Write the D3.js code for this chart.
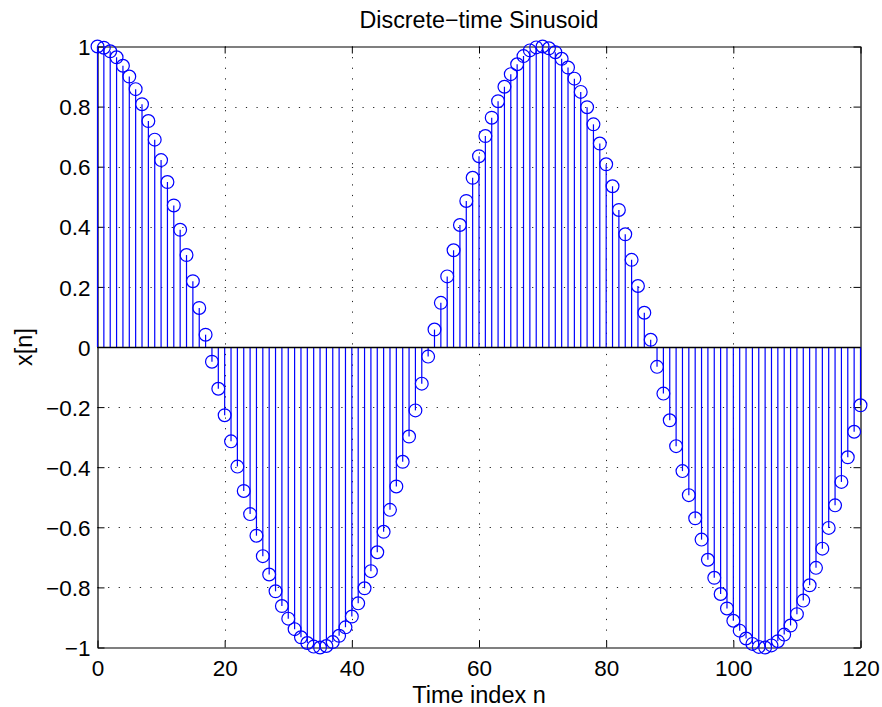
<!DOCTYPE html>
<html><head><meta charset="utf-8">
<script src="https://cdn.jsdelivr.net/npm/d3@7/dist/d3.min.js"></script>
<style>body{margin:0;background:#fff}svg{display:block}</style>
</head><body>
<script>
// x[n] values, n = 0..120
const values = [
 1.000, 0.996, 0.984, 0.964, 0.936, 0.900, 0.858, 0.808, 0.752, 0.690,
 0.622, 0.549, 0.471, 0.390, 0.306, 0.219, 0.130, 0.041,-0.049,-0.139,
-0.227,-0.314,-0.398,-0.479,-0.556,-0.628,-0.696,-0.757,-0.813,-0.862,
-0.904,-0.939,-0.966,-0.985,-0.997,-1.000,-0.995,-0.982,-0.961,-0.933,
-0.897,-0.853,-0.803,-0.746,-0.683,-0.615,-0.542,-0.464,-0.382,-0.298,
-0.211,-0.122,-0.032, 0.058, 0.147, 0.235, 0.322, 0.406, 0.486, 0.563,
 0.635, 0.702, 0.763, 0.818, 0.866, 0.908, 0.941, 0.968, 0.987, 0.997,
 1.000, 0.994, 0.981, 0.959, 0.930, 0.893, 0.849, 0.798, 0.741, 0.677,
 0.608, 0.535, 0.456, 0.375, 0.290, 0.203, 0.114, 0.024,-0.066,-0.155,
-0.244,-0.330,-0.413,-0.493,-0.570,-0.641,-0.708,-0.768,-0.822,-0.870,
-0.911,-0.944,-0.970,-0.988,-0.998,-1.000,-0.993,-0.979,-0.957,-0.927,
-0.889,-0.844,-0.793,-0.735,-0.671,-0.602,-0.527,-0.449,-0.367,-0.282,
-0.194
];
const xTicks = [0, 20, 40, 60, 80, 100, 120];
const xTickLabels = ["0", "20", "40", "60", "80", "100", "120"];
const yTicks = [-1, -0.8, -0.6, -0.4, -0.2, 0, 0.2, 0.4, 0.6, 0.8, 1];
const yTickLabels = ["\u22121", "\u22120.8", "\u22120.6", "\u22120.4", "\u22120.2", "0", "0.2", "0.4", "0.6", "0.8", "1"];
const titleText = "Discrete\u2212time Sinusoid";
const xLabelText = "Time index n";
const yLabelText = "x[n]";

const W = 882, H = 707;
const L = 97.5, R = 860.5, T = 46.5, B = 647.5;
const FONT = "'Liberation Sans', Arial, Helvetica, sans-serif";
const blue = "#0000ff";

const svg = d3.select("body").append("svg").attr("width", W).attr("height", H)
  .style("font-family", FONT);

const x = d3.scaleLinear().domain([0, 120]).range([L, R]);
const y = d3.scaleLinear().domain([-1, 1]).range([B, T]);

const data = values.map((v, i) => ({n: i, v: v}));

// grid
const grid = svg.append("g").attr("stroke", "#222").attr("stroke-width", 1)
  .attr("stroke-dasharray", "1.2,9.4").attr("fill", "none");
grid.selectAll(".gx").data(xTicks.filter(t => t > 0 && t < 120)).join("line")
  .attr("x1", d => Math.round(x(d)) + 0.5).attr("x2", d => Math.round(x(d)) + 0.5)
  .attr("y1", T).attr("y2", B);
grid.selectAll(".gy").data(yTicks.filter(t => t > -1 && t < 1)).join("line")
  .attr("y1", d => Math.round(y(d)) + 0.5).attr("y2", d => Math.round(y(d)) + 0.5)
  .attr("x1", L).attr("x2", R);

// axes with inward ticks
const tickLen = 7;
const fs = 22.5;
const axB = svg.append("g").attr("transform", `translate(0,${B})`)
  .call(d3.axisBottom(x).tickValues(xTicks).tickFormat((d, i) => xTickLabels[i])
    .tickSizeInner(-tickLen).tickSizeOuter(0).tickPadding(28.5));
const axT = svg.append("g").attr("transform", `translate(0,${T})`)
  .call(d3.axisTop(x).tickValues(xTicks).tickFormat("").tickSizeInner(-tickLen).tickSizeOuter(0));
const axL = svg.append("g").attr("transform", `translate(${L},0)`)
  .call(d3.axisLeft(y).tickValues(yTicks).tickFormat((d, i) => yTickLabels[i])
    .tickSizeInner(-tickLen).tickSizeOuter(0).tickPadding(7));
const axR = svg.append("g").attr("transform", `translate(${R},0)`)
  .call(d3.axisRight(y).tickValues(yTicks).tickFormat("").tickSizeInner(-tickLen).tickSizeOuter(0));
[axB, axT, axL, axR].forEach(a => {
  a.select(".domain").attr("stroke", "#000").attr("stroke-width", 1.2);
  a.selectAll(".tick line").attr("stroke", "#000").attr("stroke-width", 1);
  a.selectAll("text").attr("font-family", FONT).attr("font-size", fs).attr("fill", "#000");
});
axB.selectAll(".tick text").attr("dy", "0");
axL.selectAll(".tick text").attr("dy", "0.36em");

// stems
const stems = svg.append("g");
stems.selectAll("line").data(data).join("line")
  .attr("x1", d => x(d.n)).attr("x2", d => x(d.n))
  .attr("y1", y(0)).attr("y2", d => y(d.v))
  .attr("stroke", blue).attr("stroke-width", 1.2);

// baseline
svg.append("line").attr("x1", x(0)).attr("x2", x(120))
  .attr("y1", Math.round(y(0)) + 0.5).attr("y2", Math.round(y(0)) + 0.5)
  .attr("stroke", "#000").attr("stroke-width", 1.3);

// markers
svg.append("g").selectAll("circle").data(data).join("circle")
  .attr("cx", d => x(d.n)).attr("cy", d => y(d.v)).attr("r", 6.4)
  .attr("fill", "none").attr("stroke", blue).attr("stroke-width", 1.2);

// title & labels
svg.append("text").attr("x", (L + R) / 2).attr("y", 28).attr("text-anchor", "middle")
  .attr("font-size", 23.3).attr("fill", "#000").text(titleText);
svg.append("text").attr("x", (L + R) / 2).attr("y", 703).attr("text-anchor", "middle")
  .attr("font-size", 23.5).attr("fill", "#000").text(xLabelText);
svg.append("text").attr("transform", `translate(32,${(T + B) / 2}) rotate(-90)`)
  .attr("text-anchor", "middle").attr("font-size", 23.5).attr("fill", "#000").text(yLabelText);
</script>
</body></html>
